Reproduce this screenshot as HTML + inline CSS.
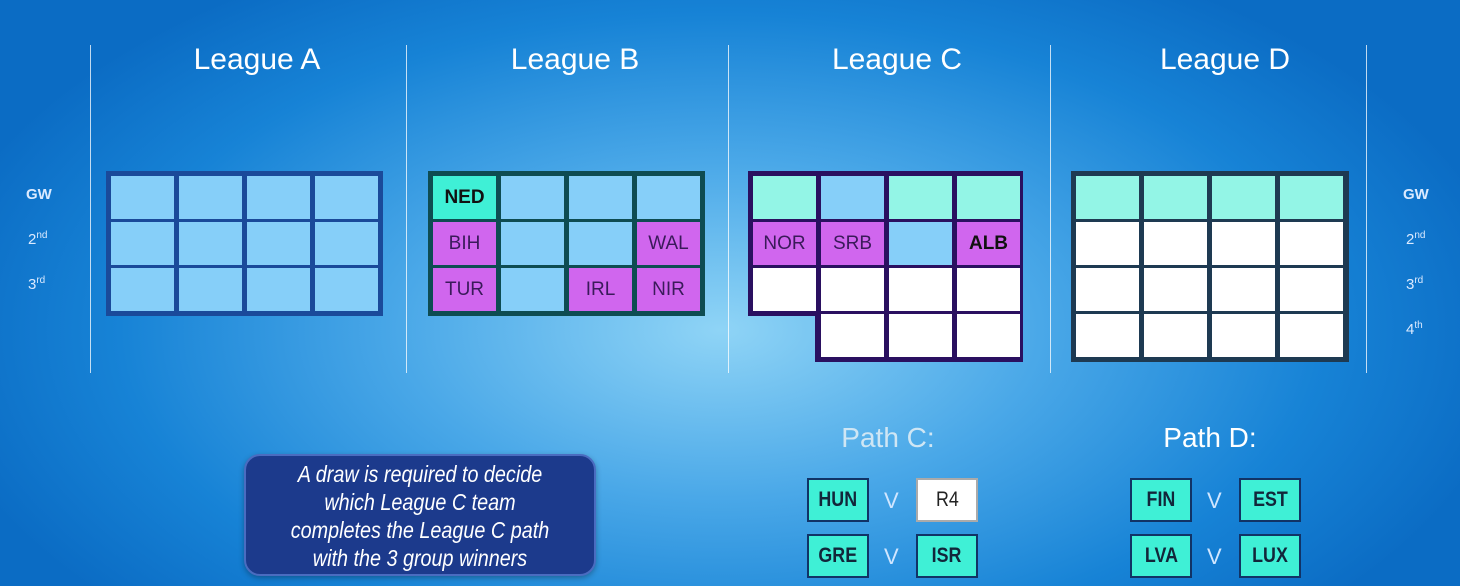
<!DOCTYPE html>
<html><head><meta charset="utf-8"><style>
*{margin:0;padding:0;box-sizing:border-box}
body{width:1460px;height:586px;overflow:hidden;position:relative;font-family:"Liberation Sans",sans-serif;
background:radial-gradient(ellipse 800px 420px at 720px 330px,#8fd4f6 0%,#4aa8e8 40%,#1783d6 75%,#0b6cc4 100%)}
.a{position:absolute}
.vl{position:absolute;top:45px;width:1px;height:328px;background:rgba(255,255,255,.75)}
.h{position:absolute;top:43px;font-size:30px;color:#fff;width:300px;text-align:center}
.lb{position:absolute;font-size:15px;color:#dbeaff}
.lb sup{font-size:10px}
.c{position:absolute;width:63px;height:43px;display:flex;align-items:center;justify-content:center;font-size:19px;color:#3a1a5a}
.lt{background:#86cff9}.tq{background:#93f5e6}.pk{background:#d066ee}.wh{background:#fff}.ned{background:#3ff0d6;font-weight:bold;color:#111}
.pb{position:absolute;width:62px;height:44px;display:flex;align-items:center;justify-content:center;font-size:21px;font-weight:bold;color:#12263a;background:#3ff0d6;border:2px solid #136}
.pb span{display:inline-block;transform:scaleX(.85)}
.v{position:absolute;font-size:22px;color:#d0e6ff}
</style></head><body>
<div class="vl" style="left:90px"></div><div class="vl" style="left:406px"></div><div class="vl" style="left:728px"></div><div class="vl" style="left:1050px"></div><div class="vl" style="left:1366px"></div>
<div class="h" style="left:107px">League A</div>
<div class="h" style="left:425px">League B</div>
<div class="h" style="left:747px">League C</div>
<div class="h" style="left:1075px">League D</div>
<div class="lb" style="left:26px;top:186px;font-weight:bold">GW</div>
<div class="lb" style="left:28px;top:230px">2<sup>nd</sup></div>
<div class="lb" style="left:28px;top:275px">3<sup>rd</sup></div>
<div class="lb" style="left:1403px;top:186px;font-weight:bold">GW</div>
<div class="lb" style="left:1406px;top:230px">2<sup>nd</sup></div>
<div class="lb" style="left:1406px;top:275px">3<sup>rd</sup></div>
<div class="lb" style="left:1406px;top:320px">4<sup>th</sup></div>

<div class="a" style="left:106px;top:171px;width:277px;height:145px;background:#1a4a9a"></div>
<div class="a" style="left:428px;top:171px;width:277px;height:145px;background:#0e4c52"></div>
<div class="a" style="left:748px;top:171px;width:275px;height:145px;background:#2a1060"></div>
<div class="a" style="left:815px;top:171px;width:208px;height:191px;background:#2a1060"></div>
<div class="a" style="left:1071px;top:171px;width:278px;height:191px;background:#1e3a52"></div>

<div id="cells"></div>
<script>
var html='';
function grid(x,y,rows){for(var r=0;r<rows.length;r++)for(var c=0;c<4;c++){var d=rows[r][c];if(!d)continue;var p=d.split('|');
html+='<div class="c '+p[0]+'" style="left:'+(x+5+c*68)+'px;top:'+(y+5+r*46)+'px">'+(p[1]||'')+'</div>';}}
grid(106,171,[['lt','lt','lt','lt'],['lt','lt','lt','lt'],['lt','lt','lt','lt']]);
grid(428,171,[['ned|NED','lt','lt','lt'],['pk|BIH','lt','lt','pk|WAL'],['pk|TUR','lt','pk|IRL','pk|NIR']]);
grid(748,171,[['tq','lt','tq','tq'],['pk|NOR','pk|SRB','lt','pk|<b style="color:#111">ALB</b>'],['wh','wh','wh','wh'],[null,'wh','wh','wh']]);
grid(1071,171,[['tq','tq','tq','tq'],['wh','wh','wh','wh'],['wh','wh','wh','wh'],['wh','wh','wh','wh']]);
document.getElementById('cells').innerHTML=html;
</script>

<div class="a" style="left:244px;top:454px;width:352px;height:122px;border-radius:16px;background:#1c3a8c;border:2px solid #4a6cc0;box-shadow:0 2px 6px rgba(0,0,0,.3);color:#fff;font-style:italic;font-size:23px;line-height:28px;text-align:center;padding-top:4px;overflow:hidden">
<div style="transform:scaleX(.86);transform-origin:center;white-space:nowrap;margin-left:-30px;margin-right:-30px">A draw is required to decide<br>which League C team<br>completes the League C path<br>with the 3 group winners</div></div>

<div class="a" style="left:808px;top:422px;width:160px;font-size:28px;color:#cfe6f4;text-align:center">Path C:</div>
<div class="a" style="left:1130px;top:422px;width:160px;font-size:28px;color:#fff;text-align:center">Path D:</div>
<div class="pb" style="left:807px;top:478px"><span>HUN</span></div>
<div class="v" style="left:884px;top:488px">V</div>
<div class="pb" style="left:916px;top:478px;background:#fff;font-weight:normal;color:#222;border-color:#aaa"><span>R4</span></div>
<div class="pb" style="left:807px;top:534px"><span>GRE</span></div>
<div class="v" style="left:884px;top:544px">V</div>
<div class="pb" style="left:916px;top:534px"><span>ISR</span></div>
<div class="pb" style="left:1130px;top:478px"><span>FIN</span></div>
<div class="v" style="left:1207px;top:488px">V</div>
<div class="pb" style="left:1239px;top:478px"><span>EST</span></div>
<div class="pb" style="left:1130px;top:534px"><span>LVA</span></div>
<div class="v" style="left:1207px;top:544px">V</div>
<div class="pb" style="left:1239px;top:534px"><span>LUX</span></div>
</body></html>
